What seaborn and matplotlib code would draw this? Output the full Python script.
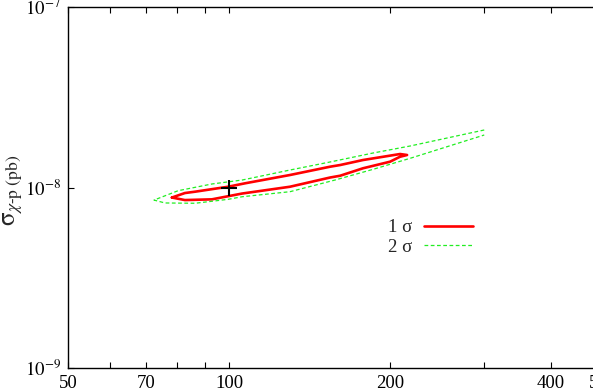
import numpy as np
import pandas as pd
import matplotlib
matplotlib.use("Agg")
import matplotlib.pyplot as plt
import seaborn as sns

# contour: mass (GeV) vs cross section (pb)
sig1_mass = [78.2, 82.7, 86.4, 99.6, 107.1, 130.0, 154.5, 161.3, 178.0, 208.8, 215.2,
             208.8, 200.0, 178.0, 161.3, 154.5, 130.0, 105.8, 92.9, 82.7, 78.2]
sig1_xs = [0.880, 0.932, 0.948, 1.010, 1.055, 1.173, 1.304, 1.332, 1.420, 1.533, 1.514,
           1.481, 1.390, 1.278, 1.162, 1.136, 1.010, 0.926, 0.860, 0.852, 0.880]

sig2_mass = [300.0, 218.0, 185.9, 154.5, 130.0, 105.8, 92.9, 80.3, 72.4,
             75.9, 86.4, 99.6, 105.8, 130.0, 157.8, 185.9, 218.0, 300.0]
sig2_xs = [2.083, 1.698, 1.553, 1.385, 1.250, 1.100, 1.046, 0.960, 0.852,
           0.821, 0.818, 0.860, 0.889, 0.948, 1.100, 1.261, 1.451, 1.954]

best_mass = [100.0]
best_xs = [1.0e-8]

x_ticks = [50, 60, 70, 80, 90, 100, 200, 300, 400, 500]
x_labels = ["50", "", "70", "", "", "100", "200", "", "400", "500"]
y_ticks = [1e-9, 1e-8, 1e-7]

sns.set_style("ticks")
plt.rcParams["font.family"] = ["Liberation Serif", "DejaVu Serif"]
plt.rcParams["mathtext.fontset"] = "stix"

df1 = pd.DataFrame({"mass": sig1_mass, "xs": np.array(sig1_xs) * 1e-8})
df2 = pd.DataFrame({"mass": sig2_mass, "xs": np.array(sig2_xs) * 1e-8})

fig = plt.figure(figsize=(5.93, 3.92), dpi=100)
ax = fig.add_axes([0.1147, 0.0612, 0.902, 0.9209])

sns.lineplot(data=df1, x="mass", y="xs", sort=False, estimator=None, ax=ax,
             color="#ff0000", linewidth=1.9, label="1 σ")
sns.lineplot(data=df2, x="mass", y="xs", sort=False, estimator=None, ax=ax,
             color="#22ee22", linewidth=0.9, linestyle=(0, (3, 2)), label="2 σ")
ax.plot(best_mass, best_xs, marker="+", color="black", markersize=11,
        markeredgewidth=1.5, linestyle="none")

ax.set_xscale("log")
ax.set_yscale("log")
ax.set_xlim(50, 500)
ax.set_ylim(1e-9, 1e-7)
ax.set_xticks(x_ticks)
ax.set_xticklabels(x_labels)
ax.xaxis.set_minor_locator(matplotlib.ticker.NullLocator())
ax.set_yticks(y_ticks)
ax.set_yticklabels([r"$10^{-9}$", r"$10^{-8}$", r"$10^{-7}$"])
ax.yaxis.set_minor_locator(matplotlib.ticker.NullLocator())
ax.tick_params(direction="in", length=4, width=0.8, labelsize=13.5,
               top=True, right=True, pad=5, colors="black")
for s in ax.spines.values():
    s.set_linewidth(1.0)
    s.set_color("black")

ax.set_xlabel("")
ax.set_ylabel("")
# y label placed by hand so it sits close to the left edge like the original
fig.text(0.004, 0.515, r"$\mathrm{\sigma}_{\chi\mathrm{\text{-}p\ (pb)}}$", fontsize=18,
         rotation=90, ha="left", va="center")

leg = ax.legend(loc="upper right", bbox_to_anchor=(0.788, 0.459), frameon=False,
                markerfirst=False, handlelength=2.6, fontsize=13.5,
                labelspacing=0.12, handletextpad=0.64)

fig.savefig("out.png", dpi=100)
